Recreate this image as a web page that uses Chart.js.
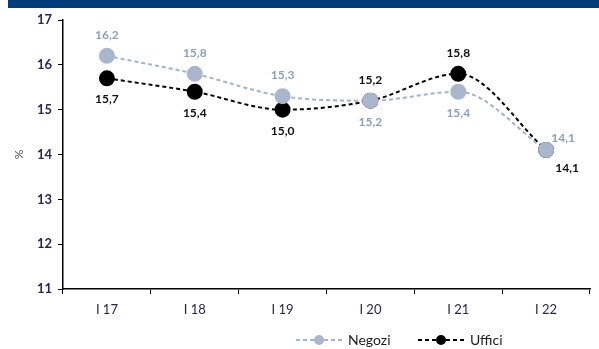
<!DOCTYPE html>
<html>
<head>
<meta charset="utf-8">
<script src="https://cdn.jsdelivr.net/npm/chart.js@4"></script>
<style>
  html,body{margin:0;padding:0;background:#fff}
  #wrap{width:599px;height:349px;position:relative}
</style>
</head>
<body>
<div id="wrap"><canvas id="cv" width="599" height="349"></canvas></div>
<script>
// dati
const labels = ['I 17','I 18','I 19','I 20','I 21','I 22'];
const negozi = [16.2, 15.8, 15.3, 15.2, 15.4, 14.1];
const uffici = [15.7, 15.4, 15.0, 15.2, 15.8, 14.1];
const yTicks = [11, 12, 13, 14, 15, 16, 17];

const fmt = v => v.toFixed(1).replace('.', ',');
const FONT = 'Lato, "Open Sans", sans-serif';

// posizione etichette: 'up' | 'down' | 'upRight' | 'downRight'
const negPos = ['up','up','up','down','down','upRight'];
const uffPos = ['down','down','down','up','up','downRight'];

const labelPlugin = {
  id: 'valLabels',
  afterDatasetsDraw(chart){
    const ctx = chart.ctx;
    ctx.save();
    ctx.font = 'bold 12px ' + FONT;
    ctx.textAlign = 'center';
    ctx.textBaseline = 'middle';
    chart.data.datasets.forEach((ds, i) => {
      const meta = chart.getDatasetMeta(i);
      const pos = i === 0 ? negPos : uffPos;
      ctx.fillStyle = ds.labelColor;
      meta.data.forEach((pt, j) => {
        let dx = 0, dy = 0;
        if (pos[j] === 'up') dy = -21;
        if (pos[j] === 'down') dy = 21;
        if (pos[j] === 'upRight') { dx = 17; dy = -12; }
        if (pos[j] === 'downRight') { dx = 21; dy = 18; }
        ctx.fillText(fmt(ds.data[j]), pt.x + dx, pt.y + dy);
      });
    });
    ctx.restore();
  }
};

const frame = {
  id: 'frame',
  beforeDraw(chart){
    const ctx = chart.ctx;
    ctx.save();
    ctx.fillStyle = '#003B7A';
    ctx.fillRect(8, 0, 591, 8);
    ctx.restore();
  },
  afterDraw(chart){
    // legenda
    const ctx = chart.ctx;
    ctx.save();
    const items = [
      {x: 296, text: 'Negozi', ds: chart.data.datasets[0]},
      {x: 418, text: 'Uffici', ds: chart.data.datasets[1]}
    ];
    const y = 340;
    items.forEach(it => {
      ctx.strokeStyle = it.ds.borderColor;
      ctx.lineWidth = 2;
      ctx.setLineDash([4, 3]);
      ctx.beginPath(); ctx.moveTo(it.x, y); ctx.lineTo(it.x + 46, y); ctx.stroke();
      ctx.setLineDash([]);
      ctx.fillStyle = it.ds.pointBackgroundColor;
      ctx.beginPath(); ctx.arc(it.x + 23, y, 5, 0, Math.PI * 2); ctx.fill();
      ctx.fillStyle = '#1a1a1a';
      ctx.font = '14px ' + FONT;
      ctx.textAlign = 'left';
      ctx.textBaseline = 'middle';
      ctx.fillText(it.text, it.x + 52, y);
    });
    ctx.restore();
  }
};

new Chart(document.getElementById('cv'), {
  type: 'line',
  data: {
    labels: labels,
    datasets: [
      {label:'Negozi', data:negozi, borderColor:'#A3B1C9', backgroundColor:'#A3B1C9',
       pointBackgroundColor:'#A9B6CC', pointBorderColor:'#A9B6CC', labelColor:'#8C9FBE',
       borderWidth:2, borderDash:[4,3], pointRadius:7, tension:0.4, cubicInterpolationMode:'monotone'},
      {label:'Uffici', data:uffici, borderColor:'#000', backgroundColor:'#000',
       pointBackgroundColor:'#000', pointBorderColor:'#000', labelColor:'#111',
       borderWidth:2, borderDash:[4,3], pointRadius:7, tension:0.4, cubicInterpolationMode:'monotone'}
    ]
  },
  options: {
    responsive:false, animation:false,
    layout:{padding:{top:20, right:2, bottom:30, left:0}},
    plugins:{legend:{display:false}, tooltip:{enabled:false}},
    scales:{
      x:{
        offset:true,
        grid:{offset:true, drawOnChartArea:false, tickLength:5, color:'#000'},
        border:{color:'#000', width:1.5},
        ticks:{color:'#2a2550', font:{family:FONT, size:13}, padding:8},
        afterFit(s){ s.height = 30; }
      },
      y:{
        min:11, max:17,
        afterBuildTicks(s){ s.ticks = yTicks.map(v => ({value:v})); },
        grid:{drawOnChartArea:false, tickLength:5, color:'#000'},
        border:{color:'#000', width:1.5},
        ticks:{color:'#2a2550', font:{family:FONT, size:13, weight:'bold'}, padding:6},
        title:{display:true, text:'%', color:'#555', font:{family:FONT, size:12}, padding:{top:12,bottom:0}},
        afterFit(s){ s.width = 63; }
      }
    }
  },
  plugins:[frame, labelPlugin]
});
</script>
</body>
</html>
